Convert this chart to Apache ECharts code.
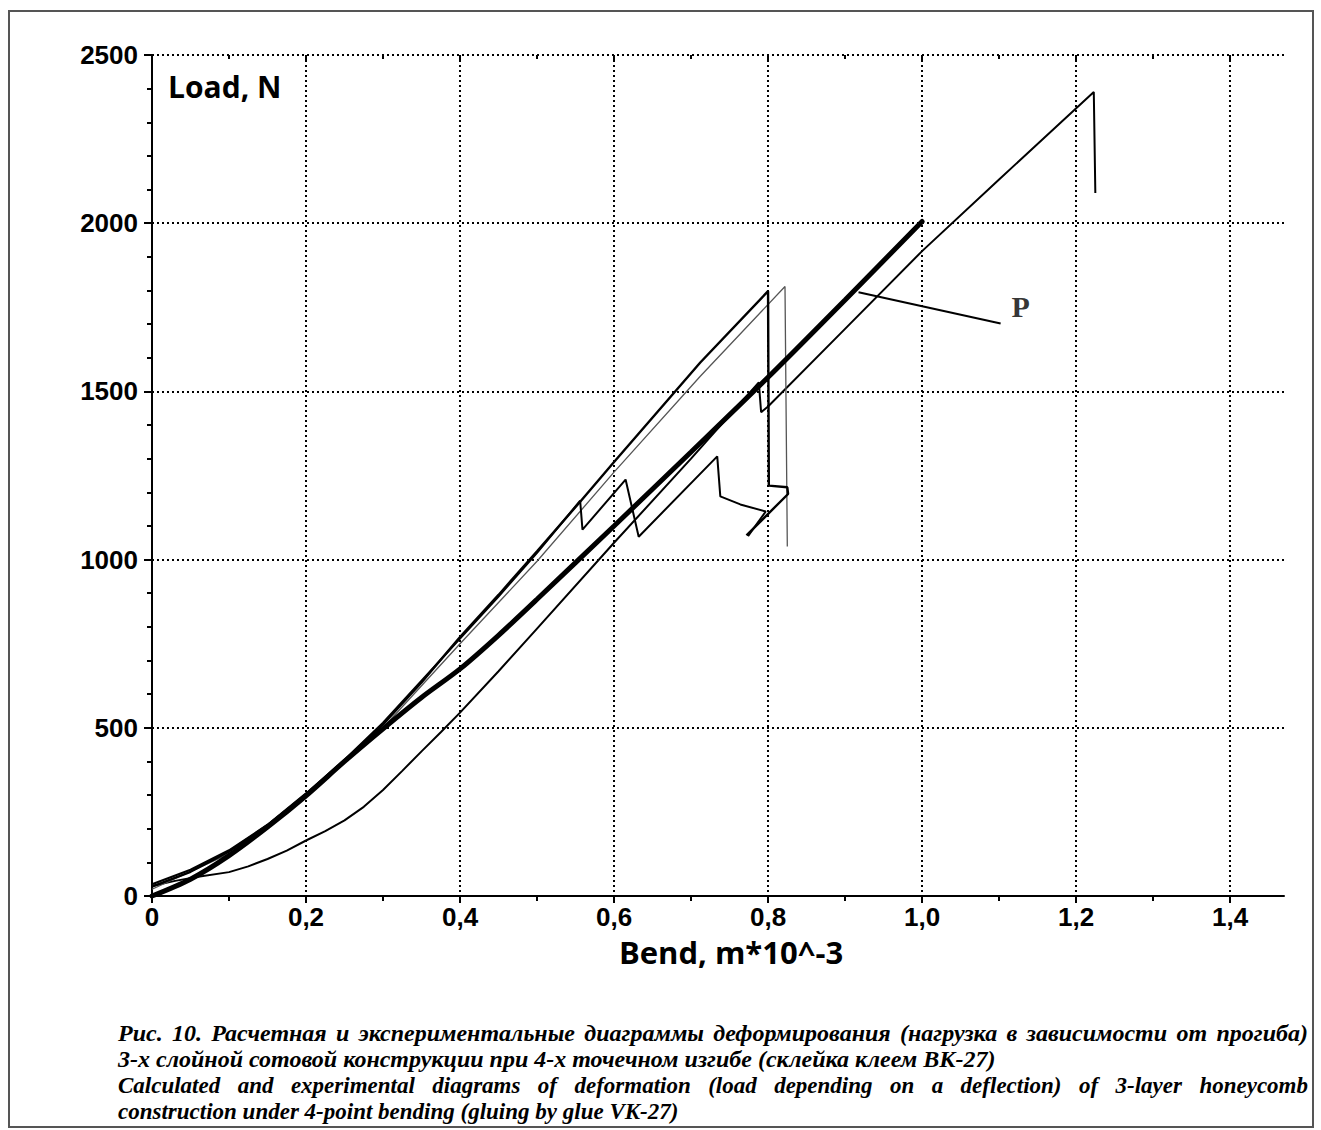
<!DOCTYPE html>
<html>
<head>
<meta charset="utf-8">
<title>Load vs. bend</title>
<script src="https://cdn.jsdelivr.net/npm/echarts@6/dist/echarts.min.js"></script>
<style>
  html, body { margin: 0; padding: 0; background: #fff; }
  #chart { width: 1321px; height: 1130px; }
</style>
</head>
<body>
<div id="chart"></div>
<script>
// Axis ticks
const xTicks = [0, 0.2, 0.4, 0.6, 0.8, 1.0, 1.2, 1.4];
const yTicks = [0, 500, 1000, 1500, 2000, 2500];

// Calculated curve (P)
const calcX = [0, 0.05, 0.1, 0.15, 0.2, 0.25, 0.3, 0.35, 0.4, 0.45, 0.5, 0.6, 0.7, 0.8, 0.9, 1.0];
const calcY = [0, 50, 120, 205, 298, 400, 497, 590, 675, 775, 882, 1100, 1320, 1542, 1772, 2005];

// Experimental curve 1 (peak at 0.8)
const exp1X = [0, 0.05, 0.1, 0.15, 0.2, 0.25, 0.3, 0.35, 0.4, 0.45, 0.5, 0.556, 0.6, 0.712, 0.8, 0.801, 0.825, 0.826, 0.772];
const exp1Y = [28, 72, 132, 210, 302, 402, 510, 635, 770, 895, 1025, 1172, 1290, 1586, 1798, 1220, 1215, 1195, 1072];

// Experimental curve 2 (peak at 0.822)
const exp2X = [0, 0.1, 0.2, 0.3, 0.4, 0.5, 0.6, 0.712, 0.822, 0.825];
const exp2Y = [20, 125, 295, 500, 750, 995, 1260, 1545, 1812, 1039];

// Experimental curve 3 (saw-tooth)
const exp3X = [0, 0.05, 0.1, 0.15, 0.2, 0.25, 0.3, 0.35, 0.4, 0.45, 0.5, 0.556, 0.559, 0.615, 0.632, 0.734, 0.738, 0.764, 0.797, 0.774];
const exp3Y = [35, 78, 136, 212, 305, 405, 515, 640, 765, 890, 1020, 1175, 1089, 1238, 1068, 1307, 1188, 1164, 1143, 1070];

// Experimental curve 4 (peak at 1.223)
const exp4X = [0, 0.03, 0.06, 0.1, 0.125, 0.15, 0.175, 0.2, 0.225, 0.25, 0.275, 0.3, 0.325, 0.35, 0.375, 0.4, 0.45, 0.5, 0.6, 0.7, 0.788, 0.791, 0.8, 0.9, 1.0, 1.1, 1.223, 1.225];
const exp4Y = [30, 45, 57, 71, 88, 110, 135, 165, 193, 225, 265, 315, 372, 430, 487, 545, 668, 795, 1050, 1300, 1527, 1438, 1455, 1686, 1917, 2130, 2390, 2090];

// Leader line to the "P" label
const leaderX = [0.9175, 1.102];
const leaderY = [1795, 1702];
const labelP = { text: 'P', x: 1.128, y: 1751 };

const xAxisMax = 1.47;
const yAxisMax = 2500;

const caption = [
  { text: 'Рис. 10. Расчетная и экспериментальные диаграммы деформирования (нагрузка в зависимости от прогиба)', justify: true, size: 24 },
  { text: '3-х слойной сотовой конструкции при 4-х точечном изгибе (склейка клеем ВК-27)', justify: false, size: 24 },
  { text: 'Calculated and experimental diagrams of deformation (load depending on a deflection) of 3-layer honeycomb', justify: true, size: 23 },
  { text: 'construction under 4-point bending (gluing by glue VK-27)', justify: false, size: 23 }
];

function pairs(xs, ys) { return xs.map((x, i) => [x, ys[i]]); }

const GRID_LEFT = 152, GRID_TOP = 55, GRID_W = 1132, GRID_H = 841;
const tickGridW = GRID_W * xTicks[xTicks.length - 1] / xAxisMax;

const dotted = { show: true, lineStyle: { color: '#000', width: 2, type: [2, 3] } };
const labelFont = { color: '#000', fontFamily: '"Liberation Sans", Arial, sans-serif', fontWeight: 'bold', fontSize: 26 };

function fmtX(v) {
  const k = v / 0.2;
  if (Math.abs(k - Math.round(k)) > 1e-6) return '';
  return v === 0 ? '0' : v.toFixed(1).replace('.', ',');
}

// Caption words laid out with justified spacing
const measureCtx = document.createElement('canvas').getContext('2d');
const CAP_LEFT = 118, CAP_RIGHT = 1308;
const capY = [1033, 1059, 1085, 1111];
const captionElements = [];
caption.forEach((line, li) => {
  const font = 'italic bold ' + line.size + 'px "Liberation Serif", "Times New Roman", serif';
  if (!line.justify) {
    captionElements.push({ type: 'text', x: CAP_LEFT, y: capY[li], silent: true,
      style: { text: line.text, font: font, fill: '#000', align: 'left', verticalAlign: 'middle' } });
    return;
  }
  measureCtx.font = font;
  const words = line.text.split(' ');
  const widths = words.map(w => measureCtx.measureText(w).width);
  const total = widths.reduce((a, b) => a + b, 0);
  const gap = (CAP_RIGHT - CAP_LEFT - total) / (words.length - 1);
  let x = CAP_LEFT;
  words.forEach((w, i) => {
    captionElements.push({ type: 'text', x: x, y: capY[li], silent: true,
      style: { text: w, font: font, fill: '#000', align: 'left', verticalAlign: 'middle' } });
    x += widths[i] + gap;
  });
});

const chart = echarts.init(document.getElementById('chart'), null, { renderer: 'svg' });

const option = {
  animation: false,
  backgroundColor: '#fff',
  grid: [
    { left: GRID_LEFT, top: GRID_TOP, width: GRID_W, height: GRID_H },
    { left: GRID_LEFT, top: GRID_TOP, width: tickGridW, height: GRID_H }
  ],
  xAxis: [
    { // full-length axis line carrying the data
      type: 'value', gridIndex: 0, min: 0, max: xAxisMax,
      axisLine: { show: true, onZero: false, lineStyle: { color: '#000', width: 2 } },
      axisTick: { show: false }, axisLabel: { show: false }, splitLine: { show: false }
    },
    { // ticks, labels and vertical grid
      type: 'value', gridIndex: 1, min: xTicks[0], max: xTicks[xTicks.length - 1], interval: 0.2,
      axisLine: { show: false },
      axisTick: { show: true, length: 7, lineStyle: { color: '#000', width: 2 } },
      minorTick: { show: true, splitNumber: 2, length: 5, lineStyle: { color: '#000', width: 2 } },
      axisLabel: { ...labelFont, margin: 8, formatter: fmtX },
      splitLine: { ...dotted, showMinLine: false }
    },
    { // inner halves of the ticks
      type: 'value', gridIndex: 1, min: xTicks[0], max: xTicks[xTicks.length - 1], interval: 0.2,
      axisLine: { show: false },
      axisTick: { show: true, inside: true, length: 6, lineStyle: { color: '#000', width: 2 } },
      minorTick: { show: true, splitNumber: 2, length: 4, lineStyle: { color: '#000', width: 2 } },
      axisLabel: { show: false }, splitLine: { show: false }
    }
  ],
  yAxis: [
    {
      type: 'value', gridIndex: 0, min: yTicks[0], max: yAxisMax, interval: 500,
      axisLine: { show: true, onZero: false, lineStyle: { color: '#000', width: 2 } },
      axisTick: { show: true, length: 8, lineStyle: { color: '#000', width: 2 } },
      minorTick: { show: true, splitNumber: 5, length: 5, lineStyle: { color: '#000', width: 2 } },
      axisLabel: { ...labelFont, margin: 14, formatter: v => String(v) },
      splitLine: { ...dotted, showMinLine: false }
    },
    {
      type: 'value', gridIndex: 0, min: yTicks[0], max: yAxisMax, interval: 500,
      axisLine: { show: false },
      axisTick: { show: true, inside: true, length: 6, lineStyle: { color: '#000', width: 2 } },
      minorTick: { show: true, splitNumber: 5, length: 4, lineStyle: { color: '#000', width: 2 } },
      axisLabel: { show: false }, splitLine: { show: false }
    },
    {
      type: 'value', gridIndex: 1, min: yTicks[0], max: yAxisMax, show: false
    }
  ],
  series: [
    { name: 'exp4', type: 'line', xAxisIndex: 0, yAxisIndex: 0, data: pairs(exp4X, exp4Y),
      showSymbol: false, lineStyle: { color: '#000', width: 2 } },
    { name: 'exp2', type: 'line', xAxisIndex: 0, yAxisIndex: 0, data: pairs(exp2X, exp2Y),
      showSymbol: false, lineStyle: { color: '#555', width: 1.3 } },
    { name: 'exp1', type: 'line', xAxisIndex: 0, yAxisIndex: 0, data: pairs(exp1X, exp1Y),
      showSymbol: false, lineStyle: { color: '#000', width: 2.4 } },
    { name: 'exp3', type: 'line', xAxisIndex: 0, yAxisIndex: 0, data: pairs(exp3X, exp3Y),
      showSymbol: false, lineStyle: { color: '#000', width: 2 } },
    { name: 'calc', type: 'line', xAxisIndex: 0, yAxisIndex: 0, data: pairs(calcX, calcY),
      showSymbol: false, smooth: 0.3, lineStyle: { color: '#000', width: 5, cap: 'round' } },
    { name: 'leader', type: 'line', xAxisIndex: 0, yAxisIndex: 0, data: pairs(leaderX, leaderY),
      showSymbol: false, lineStyle: { color: '#000', width: 2 } },
    { name: 'labelP', type: 'scatter', xAxisIndex: 0, yAxisIndex: 0, data: [[labelP.x, labelP.y]],
      symbolSize: 0, silent: true,
      label: { show: true, position: 'inside', formatter: labelP.text, color: '#000',
        fontFamily: '"Liberation Serif", "Times New Roman", serif', fontWeight: 'bold', fontSize: 30 } }
  ],
  graphic: [
    { type: 'rect', silent: true, shape: { x: 9, y: 11, width: 1304, height: 1116 },
      style: { fill: 'none', stroke: '#555', lineWidth: 2 } },
    { type: 'text', x: 168, y: 86, silent: true,
      style: { text: 'Load, N', font: 'bold 30px "Open Sans", sans-serif', fill: '#000', align: 'left', verticalAlign: 'middle' } },
    { type: 'text', x: 731, y: 952, silent: true,
      style: { text: 'Bend, m*10^-3', font: 'bold 31px "Open Sans", sans-serif', fill: '#000', align: 'center', verticalAlign: 'middle' } },
    ...captionElements
  ]
};

chart.setOption(option);
</script>
</body>
</html>
